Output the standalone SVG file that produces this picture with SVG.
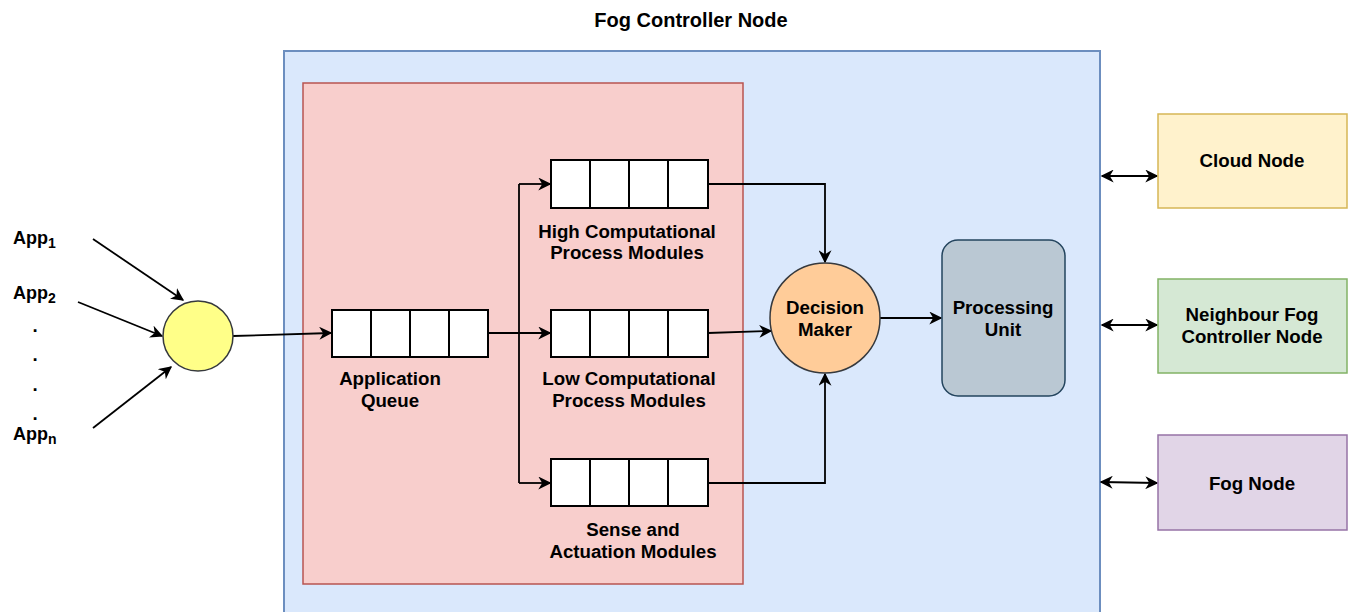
<svg xmlns="http://www.w3.org/2000/svg" width="1353" height="612" viewBox="0 0 1353 612">
  <style>
    text { font-family: "Liberation Sans", Arial, sans-serif; font-weight: bold; font-size: 18.7px; fill: #000; text-anchor: middle; }
    .title { font-size: 20px; }
    .app { text-anchor: start; font-size: 18px; }
    .sub { font-size: 14px; }
    .cell { fill: #ffffff; stroke: #000; stroke-width: 2; }
    .link { fill: none; stroke: #000; stroke-width: 1.8; }
  </style>
  <defs>
    <marker id="arrowBig" viewBox="0 0 10 10" refX="9" refY="5" markerWidth="13" markerHeight="13" markerUnits="userSpaceOnUse" orient="auto-start-reverse">
      <path d="M0,0 L10,5 L0,10 L3,5 Z" fill="#000"/>
    </marker>
  </defs>

  <rect width="1353" height="612" fill="#ffffff"/>

  <!-- controller container -->
  <g id="fog-controller">
    <rect x="284" y="51" width="816" height="580" fill="#dae8fc" stroke="#6c8ebf" stroke-width="2"/>
    <text class="title" x="691" y="27">Fog Controller Node</text>
  </g>

  <!-- module area -->
  <g id="module-area">
    <rect x="303" y="83" width="440" height="501" fill="#f8cecc" stroke="#b85450" stroke-width="1.5"/>
  </g>

  <!-- connectors -->
  <g id="connectors">
    <line class="link" x1="93" y1="239" x2="183" y2="300" marker-end="url(#arrowBig)"/>
    <line class="link" x1="78" y1="302" x2="162" y2="336" marker-end="url(#arrowBig)"/>
    <line class="link" x1="93" y1="428" x2="171" y2="367" marker-end="url(#arrowBig)"/>
    <line class="link" x1="233" y1="336" x2="331" y2="333" marker-end="url(#arrowBig)"/>
    <line class="link" x1="488" y1="333" x2="550" y2="333" marker-end="url(#arrowBig)"/>
    <line class="link" x1="519" y1="184" x2="519" y2="483"/>
    <polyline class="link" points="519,184 550,184" marker-end="url(#arrowBig)"/>
    <polyline class="link" points="519,483 550,483" marker-end="url(#arrowBig)"/>
    <polyline class="link" points="708,184 825,184 825,262" marker-end="url(#arrowBig)"/>
    <polyline class="link" points="708,333 771,331" marker-end="url(#arrowBig)"/>
    <polyline class="link" points="708,483 825,483 825,374" marker-end="url(#arrowBig)"/>
    <line class="link" x1="880" y1="318" x2="941" y2="318" marker-end="url(#arrowBig)"/>
    <line class="link" x1="1102" y1="176" x2="1157" y2="176" marker-start="url(#arrowBig)" marker-end="url(#arrowBig)"/>
    <line class="link" x1="1102" y1="325" x2="1157" y2="325" marker-start="url(#arrowBig)" marker-end="url(#arrowBig)"/>
    <line class="link" x1="1101" y1="482" x2="1157" y2="483" marker-start="url(#arrowBig)" marker-end="url(#arrowBig)"/>
  </g>

  <!-- application sources -->
  <g id="apps">
    <text class="app" x="13" y="244">App<tspan class="sub" dy="4">1</tspan></text>
    <text class="app" x="13" y="299">App<tspan class="sub" dy="4">2</tspan></text>
    <text x="35" y="332">.</text>
    <text x="35" y="361">.</text>
    <text x="35" y="391">.</text>
    <text x="35" y="420">.</text>
    <text class="app" x="13" y="440">App<tspan class="sub" dy="4">n</tspan></text>
  </g>

  <g id="scheduler">
    <circle cx="198" cy="336" r="35" fill="#ffff88" stroke="#36393d" stroke-width="1.5"/>
  </g>

  <g id="application-queue">
    <rect class="cell" x="332" y="310" width="39" height="47"/>
    <rect class="cell" x="371" y="310" width="39" height="47"/>
    <rect class="cell" x="410" y="310" width="39" height="47"/>
    <rect class="cell" x="449" y="310" width="39" height="47"/>
    <text x="390" y="385">Application</text>
    <text x="390" y="407">Queue</text>
  </g>

  <g id="high-queue">
    <rect class="cell" x="551" y="160" width="39" height="48"/>
    <rect class="cell" x="590" y="160" width="39" height="48"/>
    <rect class="cell" x="629" y="160" width="39" height="48"/>
    <rect class="cell" x="668" y="160" width="40" height="48"/>
    <text x="627" y="238">High Computational</text>
    <text x="627" y="259">Process Modules</text>
  </g>

  <g id="low-queue">
    <rect class="cell" x="551" y="310" width="39" height="47"/>
    <rect class="cell" x="590" y="310" width="39" height="47"/>
    <rect class="cell" x="629" y="310" width="39" height="47"/>
    <rect class="cell" x="668" y="310" width="40" height="47"/>
    <text x="629" y="385">Low Computational</text>
    <text x="629" y="407">Process Modules</text>
  </g>

  <g id="sense-queue">
    <rect class="cell" x="551" y="459" width="39" height="47"/>
    <rect class="cell" x="590" y="459" width="39" height="47"/>
    <rect class="cell" x="629" y="459" width="39" height="47"/>
    <rect class="cell" x="668" y="459" width="40" height="47"/>
    <text x="633" y="536">Sense and</text>
    <text x="633" y="558">Actuation Modules</text>
  </g>

  <g id="decision-maker">
    <circle cx="825" cy="318" r="55" fill="#ffcc99" stroke="#36393d" stroke-width="1.5"/>
    <text x="825" y="314">Decision</text>
    <text x="825" y="336">Maker</text>
  </g>

  <g id="processing-unit">
    <rect x="942" y="240" width="123" height="156" rx="16" fill="#bac8d3" stroke="#23445d" stroke-width="1.5"/>
    <text x="1003" y="314">Processing</text>
    <text x="1003" y="336">Unit</text>
  </g>

  <g id="cloud-node">
    <rect x="1158" y="114" width="189" height="94" fill="#fff2cc" stroke="#d6b656" stroke-width="1.5"/>
    <text x="1252" y="167">Cloud Node</text>
  </g>

  <g id="neighbour-node">
    <rect x="1158" y="279" width="189" height="94" fill="#d5e8d4" stroke="#82b366" stroke-width="1.5"/>
    <text x="1252" y="321">Neighbour Fog</text>
    <text x="1252" y="343">Controller Node</text>
  </g>

  <g id="fog-node">
    <rect x="1158" y="435" width="189" height="95" fill="#e1d5e7" stroke="#9673a6" stroke-width="1.5"/>
    <text x="1252" y="490">Fog Node</text>
  </g>
</svg>
